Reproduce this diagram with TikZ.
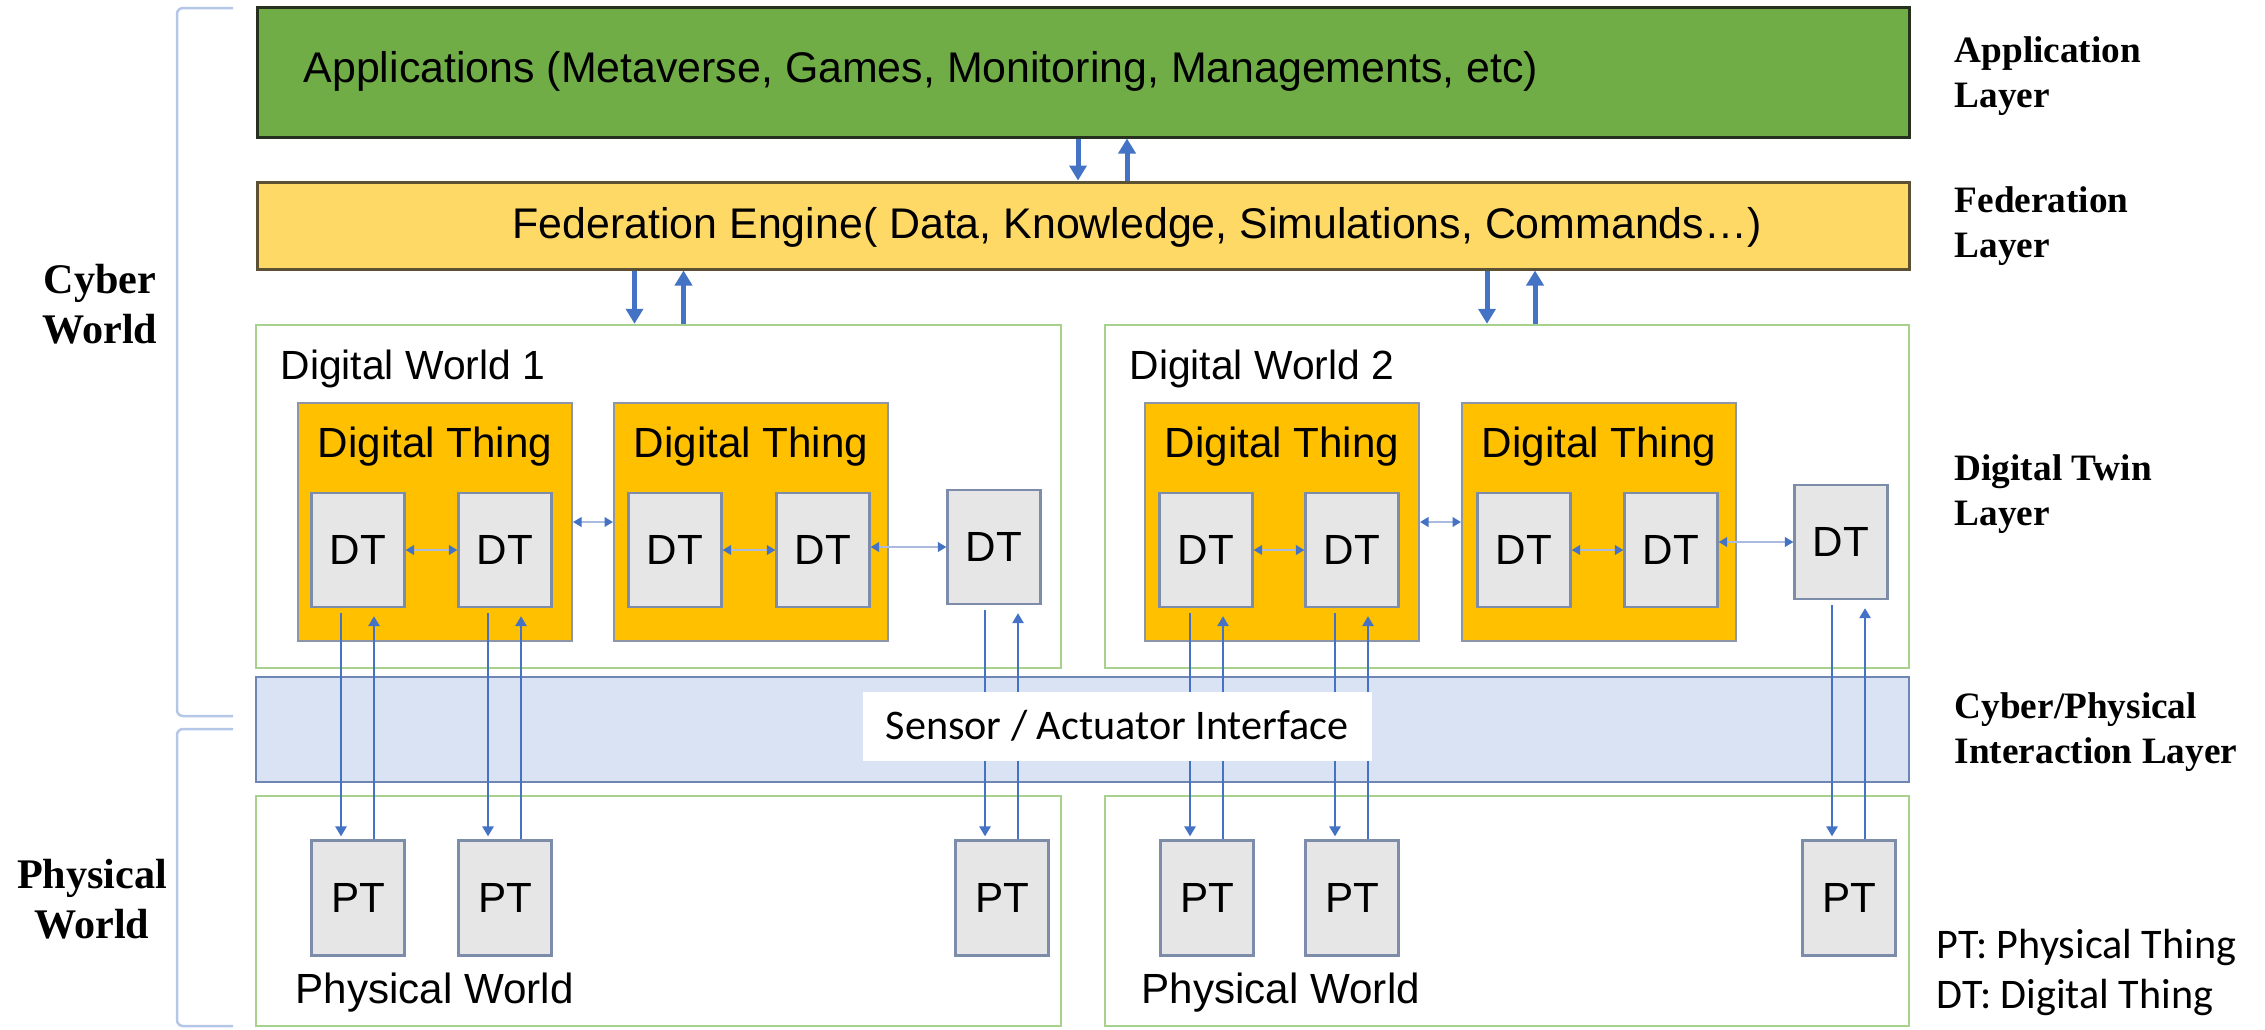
\documentclass[tikz,border=0pt]{standalone}
\usepackage{fontspec}
\setmainfont{Liberation Sans}
\newfontfamily\serifbold{Liberation Serif}
\newfontfamily\calibri{Carlito}
\usetikzlibrary{arrows.meta,calc,fit}

\definecolor{appgreen}{HTML}{70AD47}
\definecolor{appborder}{HTML}{25301E}
\definecolor{fedyellow}{HTML}{FFD966}
\definecolor{fedborder}{HTML}{5C5233}
\definecolor{worldgreen}{HTML}{A9D18E}
\definecolor{thingorange}{HTML}{FFC000}
\definecolor{thingedge}{HTML}{8C96A8}
\definecolor{boxedge}{HTML}{7D8CA8}
\definecolor{boxgrey}{HTML}{E6E6E6}
\definecolor{ifaceblue}{HTML}{DAE3F3}
\definecolor{ifaceedge}{HTML}{6E86B4}
\definecolor{linkblue}{HTML}{4472C4}
\definecolor{linklight}{HTML}{A9BCE0}
\definecolor{bracketblue}{HTML}{B4C7E7}

\begin{document}
\begin{tikzpicture}[x=0.1mm,y=-0.1mm,
    layer/.style={inner sep=0pt,line width=0.3mm},
    world/.style={draw=worldgreen,fill=white,inner sep=0pt,line width=0.25mm},
    thing/.style={draw=thingedge,fill=thingorange,inner sep=0pt,line width=0.2mm,
        minimum width=27.4mm,minimum height=23.8mm},
    twin/.style={draw=boxedge,fill=boxgrey,inner sep=0pt,line width=0.22mm,
        minimum width=9.3mm,minimum height=11.4mm,font=\fontsize{12}{14}\selectfont},
    plain/.style={anchor=base west,inner sep=0pt,font=\fontsize{12}{14}\selectfont},
    layername/.style={anchor=base west,align=left,inner sep=0pt,
        font=\serifbold\bfseries\fontsize{10.6}{12.8}\selectfont},
    worldname/.style={anchor=base,align=center,inner sep=0pt,
        font=\serifbold\bfseries\fontsize{12}{14.2}\selectfont},
    legendtext/.style={anchor=base west,inner sep=0pt,font=\calibri\fontsize{12}{14}\selectfont},
    biglink/.style={draw=linkblue,line width=0.5mm,-{Triangle[width=1.7mm,length=1.5mm]}},
    link/.style={draw=linkblue,line width=0.28mm,-{Triangle[width=1.1mm,length=1mm]}},
    smalllink/.style={draw=linklight,line width=0.25mm,
        {Triangle[color=linkblue,width=0.95mm,length=0.85mm]}-{Triangle[color=linkblue,width=0.95mm,length=0.85mm]}},
    bracket/.style={draw=bracketblue,line width=0.25mm,rounded corners=0.6mm}]
\useasboundingbox (0,0) rectangle (2265,1029);

% layers and worlds
\node[layer,draw=appborder,fill=appgreen,fit={(257,7) (1909,137)}] (app) {};
\node[layer,draw=fedborder,fill=fedyellow,fit={(257,182) (1909,269)}] (fed) {};
\node[world,fit={(256,325) (1061,668)}] (dw1) {};
\node[world,fit={(1105,325) (1909,668)}] (dw2) {};
\node[layer,draw=ifaceedge,fill=ifaceblue,line width=0.25mm,fit={(256,677) (1909,782)}] (iface) {};
\node[world,fit={(256,796) (1061,1026)}] (pw1) {};
\node[world,fit={(1105,796) (1909,1026)}] (pw2) {};

\node[plain,font=\fontsize{12.2}{14}\selectfont] (app-text) at (303,82)
    {Applications (Metaverse, Games, Monitoring, Managements, etc)};
\node[plain,font=\fontsize{12.2}{14}\selectfont] (fed-text) at (512,238)
    {Federation Engine( Data, Knowledge, Simulations, Commands…)};
\node[plain,font=\fontsize{11.6}{14}\selectfont] (dw1-title) at (280,379) {Digital World 1};
\node[plain,font=\fontsize{11.6}{14}\selectfont] (dw2-title) at (1129,379) {Digital World 2};
\node[plain] (pw1-title) at (295,1003) {Physical World};
\node[plain] (pw2-title) at (1141,1003) {Physical World};

% digital things
\foreach \n/\x in {thing1/435,thing2/751,thing3/1282,thing4/1599}{
    \node[thing] (\n) at (\x,522) {};
    \node[anchor=base,inner sep=0pt,font=\fontsize{12}{14}\selectfont] (\n-title)
        at ($(\n.north)+(0,55)$) {Digital Thing};
}

\foreach \n/\x/\y in {dta/358/550,dtb/505/550,dtc/675/550,dtd/823/550,dt1s/994/547,
                      dte/1206/550,dtf/1352/550,dtg/1524/550,dth/1671/550,dt2s/1841/542}
    \node[twin] (\n) at (\x,\y) {DT};

\foreach \n/\x in {pta/358,ptb/505,ptc/1002,ptd/1207,pte/1352,ptf/1849}
    \node[twin,minimum height=11.5mm] (\n) at (\x,898) {PT};

% links inside the digital worlds
\foreach \a/\b in {dta/dtb,dtc/dtd,thing1/thing2,dte/dtf,dtg/dth,thing3/thing4}
    \draw[smalllink] (\a) -- (\b);
\draw[smalllink] (dtd.east |- dt1s.west) -- (dt1s.west);
\draw[smalllink] (dth.east |- dt2s.west) -- (dt2s.west);

% sensing and acting
\foreach \d/\p in {dta/pta,dtb/ptb,dt1s/ptc,dte/ptd,dtf/pte,dt2s/ptf}{
    \draw[link] ($(\p.north |- \d.south)+(-17,5)$) -- ($(\p.north)+(-17,-3)$);
    \draw[link] ($(\p.north)+(16,0)$) -- ($(\p.north |- \d.south)+(16,8)$);
}

\node[fill=white,inner sep=0pt,minimum width=50.9mm,minimum height=6.9mm,
      font=\calibri\fontsize{12}{14}\selectfont] (sensor) at (1117,726)
    {Sensor / Actuator Interface};

% federation
\draw[biglink] ($(app.south)+(-5,0)$) -- ($(fed.north)+(-5,0)$);
\draw[biglink] ($(fed.north)+(44,0)$) -- ($(app.south)+(44,0)$);
\draw[biglink] ($(fed.south -| dw1.north)+(-24,0)$) -- ($(dw1.north)+(-24,0)$);
\draw[biglink] ($(dw1.north)+(25,0)$) -- ($(fed.south -| dw1.north)+(25,0)$);
\draw[biglink] ($(fed.south -| dw2.north)+(-20,0)$) -- ($(dw2.north)+(-20,0)$);
\draw[biglink] ($(dw2.north)+(28,0)$) -- ($(fed.south -| dw2.north)+(28,0)$);

% layer names (base is the last line)
\node[layername] (app-layer) at (1954,107) {Application\\Layer};
\node[layername] (fed-layer) at (1954,257) {Federation\\Layer};
\node[layername] (dt-layer) at (1954,525) {Digital Twin\\Layer};
\node[layername] (cp-layer) at (1954,763) {Cyber/Physical\\Interaction Layer};

\node[legendtext] (pt-key) at (1936,958) {PT: Physical Thing};
\node[legendtext] (dt-key) at (1936,1008) {DT: Digital Thing};

% worlds on the left
\node[worldname] (cyber) at (100,343) {Cyber\\World};
\node[worldname] (physical) at (92,938) {Physical\\World};
\draw[bracket] (233,8) -- (177,8) -- (177,716) -- (233,716);
\draw[bracket] (233,729) -- (177,729) -- (177,1026) -- (233,1026);
\end{tikzpicture}
\end{document}
